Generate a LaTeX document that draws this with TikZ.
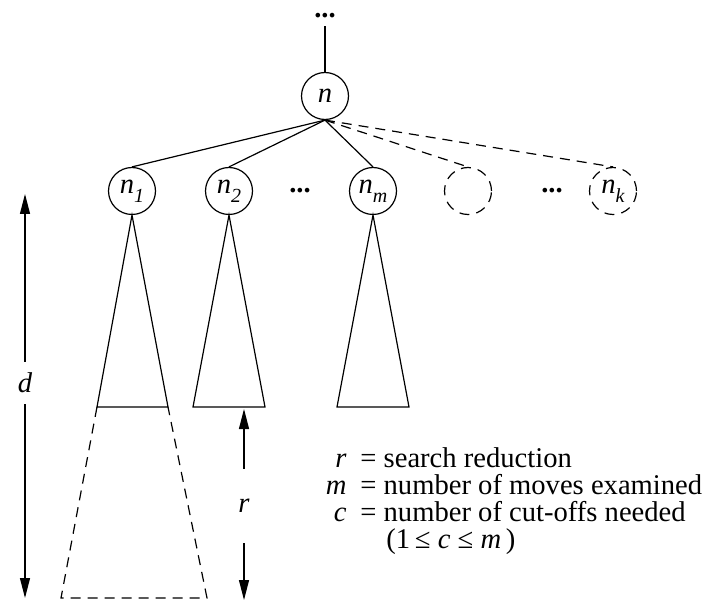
\documentclass[tikz,border=0pt]{standalone}
\usepackage{fontspec}
\setmainfont{Liberation Serif}
\usetikzlibrary{arrows.meta, positioning}
\newcommand{\figfont}{\fontsize{14.3pt}{13.5pt}\selectfont}
\newcommand{\nsub}[1]{\textit{n}\raisebox{-4.5pt}{\fontsize{10pt}{10pt}\selectfont\textit{#1}}}
\tikzset{
  >={Triangle[length=10pt, width=5pt]},
  treenode/.style={draw, circle, minimum size=23.5pt, inner sep=0pt, line width=0.6pt},
  ghostnode/.style={treenode, dash pattern=on 5pt off 3.5pt},
  treeedge/.style={line width=0.6pt},
  ghostedge/.style={line width=0.6pt, dash pattern=on 5pt off 3.5pt},
  dimarrow/.style={->, line width=0.6pt},
  dimlabel/.style={inner sep=0pt, font=\figfont\itshape},
  legendtext/.style={inner sep=0pt, font=\figfont},
  dotsnode/.style={inner sep=1pt, font=\figfont\bfseries}
}

\begin{document}
\begin{tikzpicture}[x=0.5pt, y=-0.5pt, every node/.style={font=\figfont}]
    \useasboundingbox (0,0) rectangle (707,604);
    % tree nodes
    \node (topdots) [dotsnode, outer sep=3pt] at (325,16) {...};
    \node (root) [treenode] at (325,96) {\textit{n}};
    \node (c1) [treenode] at (132,191) {\nsub{1}};
    \node (c2) [treenode] at (229,191) {\nsub{2}};
    \node (cdots) [dotsnode] at (300,191) {...};
    \node (cm) [treenode] at (373,191) {\nsub{m}};
    \node (cx) [ghostnode] at (468,191) {};
    \node (cdotsb) [dotsnode] at (552,191) {...};
    \node (ck) [ghostnode] at (613,191) {\nsub{k}};
    \draw[treeedge] (topdots.south) -- (root.north);
    \draw[treeedge] (root.south) -- (c1.north);
    \draw[treeedge] (root.south) -- (c2.north);
    \draw[treeedge] (root.south) -- (cm.north);
    \draw[ghostedge] (root.south) -- (cx.north);
    \draw[ghostedge] (root.south) -- (ck.north);
    % subtrees
    \coordinate (b1l) at (97,407);
    \coordinate (b1r) at (168,407);
    \coordinate (x1l) at (61,598);
    \coordinate (x1r) at (207,598);
    \draw[treeedge] (c1.south) -- (b1l) -- (b1r) -- cycle;
    \draw[treeedge] (c2.south) -- (193,407) -- (265,407) -- cycle;
    \draw[treeedge] (cm.south) -- (337,407) -- (409,407) -- cycle;
    \draw[ghostedge] (b1l) -- (x1l) -- (x1r) -- (b1r);
    % depth and reduction
    \coordinate (dtop) at (25,194);
    \coordinate (dbot) at (25,598);
    \node (dlab) [dimlabel, minimum height=21pt] at (25,383) {d};
    \draw[dimarrow] (dlab.north) -- (dtop);
    \draw[dimarrow] (dlab.south) -- (dbot);
    \coordinate (rtop) at (244,409);
    \coordinate (rbot) at (244,600);
    \node (rlab) [dimlabel, minimum height=37pt] at (244,506) {r};
    \draw[dimarrow] (rlab.north) -- (rtop);
    \draw[dimarrow] (rlab.south) -- (rbot);
    % legend
    \node (rvar) [legendtext, anchor=base east] at (347,467) {\textit{r}};
    \node (rdef) [legendtext, anchor=base west] at (360,467) {= search reduction};
    \node (mvar) [legendtext, anchor=base east] at (347,494) {\textit{m}};
    \node (mdef) [legendtext, anchor=base west] at (360,494) {= number of moves examined};
    \node (cvar) [legendtext, anchor=base east] at (347,521) {\textit{c}};
    \node (cdef) [legendtext, anchor=base west] at (360,521) {= number of cut-offs needed};
    \node (crange) [legendtext, anchor=base west] at (386,548) {(1\,≤\ \textit{c}\ ≤\ \textit{m}\,)};
\end{tikzpicture}
\end{document}
